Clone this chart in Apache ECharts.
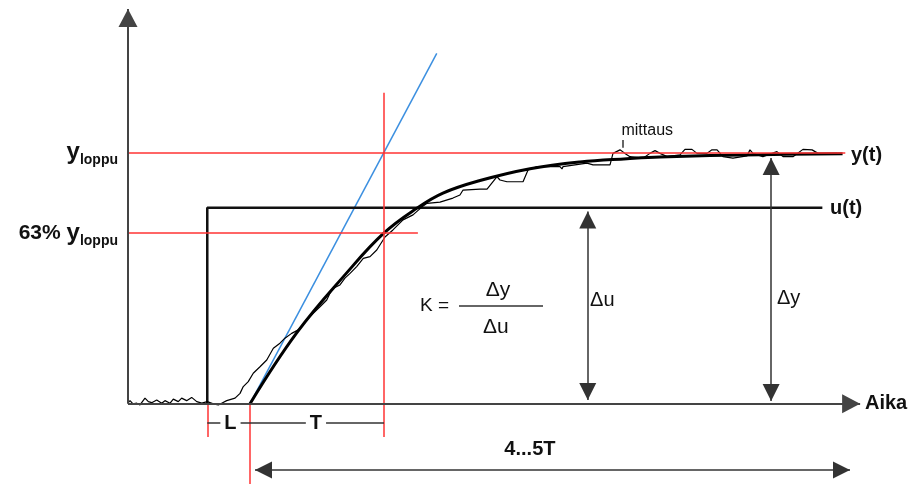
<!DOCTYPE html>
<html>
<head>
<meta charset="utf-8">
<script src="https://cdn.jsdelivr.net/npm/echarts@6/dist/echarts.min.js"></script>
<style>
html, body { margin: 0; padding: 0; background: #fff; }
#chart { width: 910px; height: 484px; }
</style>
</head>
<body>
<div id="chart"></div>
<script>
// aika-akselin yksikkö: T = 10, y_loppu = 100
var tStep = 5.88;     // askel u(t)
var tL = 9.05;        // viive L loppuu
var tT = 18.99;       // L + T
var yLoppu = 100;
var y63 = 68;         // 63 % -viiva (luettu kuvasta)
var uLevel = 78;

var yTickValues = [68, 100];
var yTickPrefix = ['63% ', ''];

var uData = [[tStep, 0], [tStep, uLevel], [51.5, uLevel]];

var modelData = [
  [9.05, 0], [12.51, 28.2], [16.22, 52.1], [18.99, 68.0], [21.41, 77.8],
  [23.36, 83.9], [26.11, 88.9], [29.82, 93.6], [33.52, 96.3],
  [37.01, 97.6], [39.46, 98.3], [46.87, 99.2], [53.0, 99.6]
];

var measData = [
  [0.02, 0.4], [0.15, 1.2], [0.37, -0.1], [0.65, 0.2], [0.89, -0.5], [1.26, 2.2],
  [1.51, 0.8], [1.76, 0.4], [2.13, 1.5], [2.5, 0.2], [2.74, 1.2], [3.12, 0.2],
  [3.36, 1.8], [3.73, 0.8], [3.98, 2.2], [4.35, 1.2], [4.72, 2.5], [5.1, 0.8],
  [5.47, 0.2], [5.88, 0.8], [6.33, -0.1], [6.7, -0.5], [6.95, 0.2], [7.32, 1.2],
  [7.94, 2.2], [8.31, 4.1], [8.55, 6.8], [8.92, 8.8], [9.29, 12.1], [9.79, 14.7],
  [10.29, 17.4], [10.78, 22.1], [11.27, 24.1], [11.64, 26.1], [12.14, 28.0],
  [12.63, 29.4], [13.25, 33.3], [13.74, 36.0], [14.24, 38.6], [14.74, 41.3],
  [14.98, 44.0], [15.23, 46.0], [15.72, 47.3], [16.09, 50.0], [16.47, 51.9],
  [16.96, 54.6], [17.45, 57.9], [17.95, 58.6], [18.45, 61.2], [19.06, 66.4],
  [19.65, 69.2], [20.4, 73.2], [21.14, 75.2], [21.81, 78.4], [22.18, 79.8],
  [23.14, 80.3], [24.1, 81.9], [24.62, 83.1], [24.85, 85.1], [26.11, 85.5],
  [26.63, 85.5], [27.37, 90.4], [27.59, 89.1], [28.11, 88.4], [29.3, 88.4],
  [29.67, 93.1], [30.34, 94.4], [32.04, 94.4], [32.19, 93.5], [32.26, 94.4],
  [34.04, 95.8], [34.49, 95.1], [35.75, 95.1], [35.97, 99.7], [36.49, 101.1],
  [36.86, 99.7], [37.23, 98.4], [38.2, 97.8], [38.71, 99.7], [39.09, 100.8],
  [39.46, 99.7], [39.98, 98.4], [40.94, 99.1], [41.31, 101.3], [41.83, 101.3],
  [42.2, 99.7], [42.94, 99.7], [43.31, 101.1], [43.69, 101.1], [44.13, 98.4],
  [44.87, 97.8], [45.91, 98.7], [46.13, 101.1], [46.35, 99.7], [47.09, 98.4],
  [48.13, 100.4], [48.58, 98.4], [49.32, 98.4], [50.06, 101.3], [50.74, 101.1],
  [51.18, 99.7], [51.85, 99.7], [52.59, 99.7]
];

var tangentData = [[tL, 0], [22.9, 139.5]];

var redLines = [
  [[0, yLoppu], [53.2, yLoppu]],
  [[0, y63], [21.5, y63]],
  [[tT, 123.9], [tT, -13.3]],
  [[tL, 0], [tL, -32]],
  [[tStep, 0], [tStep, -13.3]]
];

var axisArrows = [
  [[0, 0], [0, 157.2]],
  [[0, 0], [54.3, 0]]
];
var doubleArrows = [
  [[34.1, 76.5], [34.1, 1.5]],     // Δu
  [[47.7, 97.9], [47.7, 1.1]],     // Δy
  [[9.42, -26.4], [53.55, -26.4]]  // 4...5T
];
var plainLines = [
  [[tStep, -7.7], [tT, -7.7]],      // L ja T mittaviiva
  [[24.55, 39.0], [30.78, 39.0]],   // murtoviiva
  [[36.71, 101.9], [36.71, 105.0]]  // mittaus-viite
];

var FONT = 'Liberation Sans, Arial, sans-serif';

function segs(list) {
  return list.map(function (s) { return [{ coord: s[0] }, { coord: s[1] }]; });
}

var chart = echarts.init(document.getElementById('chart'));

var option = {
  animation: false,
  grid: { left: 128, right: 0, top: 2, bottom: 0 },
  xAxis: { type: 'value', min: 0, max: 58, show: false },
  yAxis: {
    type: 'value', min: -32, max: 160,
    axisLine: { show: false },
    axisTick: { show: false },
    splitLine: { show: false },
    axisLabel: {
      customValues: yTickValues,
      margin: 10,
      formatter: function (v) {
        var i = yTickValues.indexOf(v);
        return (yTickPrefix[i] ? '{p|' + yTickPrefix[i] + '}' : '') + '{y|y}{s|loppu}';
      },
      rich: {
        p: { fontFamily: FONT, fontSize: 21, fontWeight: 'bold', color: '#111' },
        y: { fontFamily: FONT, fontSize: 24, fontWeight: 'bold', color: '#111' },
        s: { fontFamily: FONT, fontSize: 14, fontWeight: 'bold', color: '#111', verticalAlign: 'bottom', padding: [0, 0, -3, 0] }
      }
    }
  },
  series: [
    {
      type: 'line', data: [], silent: true,
      markLine: {
        silent: true, symbol: ['none', 'none'], label: { show: false },
        lineStyle: { color: '#ff3333', width: 1.5, type: 'solid' },
        emphasis: { disabled: true },
        data: segs(redLines)
      }
    },
    {
      type: 'line', data: tangentData, showSymbol: false, silent: true,
      lineStyle: { color: '#3b8fe0', width: 1.5 }
    },
    {
      type: 'line', data: uData, showSymbol: false, silent: true,
      lineStyle: { color: '#111', width: 2.5 }
    },
    {
      type: 'line', data: measData, showSymbol: false, silent: true,
      lineStyle: { color: '#000', width: 1.2 }
    },
    {
      type: 'line', data: modelData, showSymbol: false, silent: true, smooth: 0.4,
      lineStyle: { color: '#000', width: 3 }
    },
    {
      type: 'line', data: [], silent: true,
      markLine: {
        silent: true, symbol: ['none', 'triangle'], symbolSize: [19, 18],
        symbolOffset: [[0, 0], [0, 9]], label: { show: false },
        lineStyle: { color: '#444', width: 2, type: 'solid' },
        emphasis: { disabled: true },
        data: segs(axisArrows)
      }
    },
    {
      type: 'line', data: [], silent: true,
      markLine: {
        silent: true, symbol: ['triangle', 'triangle'], symbolSize: [17, 17],
        symbolOffset: [[0, 8.5], [0, 8.5]], label: { show: false },
        lineStyle: { color: '#333', width: 1.5, type: 'solid' },
        emphasis: { disabled: true },
        data: segs(doubleArrows)
      }
    },
    {
      type: 'line', data: [], silent: true,
      markLine: {
        silent: true, symbol: ['none', 'none'], label: { show: false },
        lineStyle: { color: '#333', width: 1.5, type: 'solid' },
        emphasis: { disabled: true },
        data: segs(plainLines)
      }
    }
  ]
};

chart.setOption(option);

// tekstit datakoordinaateissa
var texts = [
  { at: [53.62, 98.7], text: 'y(t)', size: 20, weight: 'bold', align: 'left' },
  { at: [52.07, 77.6], text: 'u(t)', size: 20, weight: 'bold', align: 'left' },
  { at: [54.66, 0], text: 'Aika', size: 20, weight: 'bold', align: 'left' },
  { at: [36.6, 108.6], text: 'mittaus', size: 16, weight: 'normal', align: 'left' },
  { at: [29.81, -18.4], text: '4...5T', size: 20, weight: 'bold', align: 'center' },
  { at: [21.66, 38.9], text: 'K =', size: 19, weight: 'normal', align: 'left' },
  { at: [27.44, 45.3], text: 'Δy', size: 21, weight: 'normal', align: 'center' },
  { at: [27.29, 30.6], text: 'Δu', size: 21, weight: 'normal', align: 'center' },
  { at: [34.27, 41.3], text: 'Δu', size: 20, weight: 'normal', align: 'left' },
  { at: [48.13, 41.7], text: 'Δy', size: 20, weight: 'normal', align: 'left' },
  { at: [7.6, -7.7], text: 'L', size: 20, weight: 'bold', align: 'center', bg: true },
  { at: [13.94, -7.7], text: 'T', size: 20, weight: 'bold', align: 'center', bg: true }
];

chart.setOption({
  graphic: texts.map(function (d) {
    var p = chart.convertToPixel({ gridIndex: 0 }, d.at);
    return {
      type: 'text', x: p[0], y: p[1], silent: true, z: 100,
      style: {
        text: d.text, fontFamily: FONT, fontSize: d.size, fontWeight: d.weight,
        fill: '#111', align: d.align, verticalAlign: 'middle',
        backgroundColor: d.bg ? '#fff' : null, padding: d.bg ? [0, 4] : 0
      }
    };
  })
});
</script>
</body>
</html>
